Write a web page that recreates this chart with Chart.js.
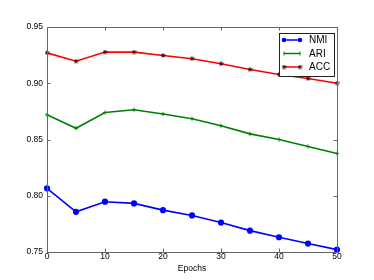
<!DOCTYPE html>
<html>
<head>
<meta charset="utf-8">
<script src="https://cdn.jsdelivr.net/npm/chart.js@4/dist/chart.umd.min.js"></script>
<style>
  html, body { margin: 0; padding: 0; background: #fff; }
  #wrap { width: 374px; height: 280px; position: relative; }
</style>
</head>
<body>
<div id="wrap"><canvas id="chart" width="374" height="280"></canvas></div>
<script>
const epochs = [0, 5, 10, 15, 20, 25, 30, 35, 40, 45, 50];
const nmi = [0.8066, 0.7857, 0.7947, 0.7932, 0.7872, 0.7825, 0.7762, 0.769, 0.7631, 0.7575, 0.7521];
const ari = [0.872, 0.860, 0.874, 0.8765, 0.8727, 0.8685, 0.8622, 0.855, 0.850, 0.8438, 0.8375];
const acc = [0.927, 0.9196, 0.9277, 0.9277, 0.9247, 0.9218, 0.9173, 0.9122, 0.9078, 0.9042, 0.900];
const seriesNames = ["NMI", "ARI", "ACC"];
const yTicks = [0.75, 0.80, 0.85, 0.90, 0.95];
const xTicks = [0, 10, 20, 30, 40, 50];

const FONT = "'Liberation Sans', Arial, sans-serif";
const frameColor = "#666";

// small filled five-point star like matplotlib '*'
function makeStar(size, fill, stroke) {
  const c = document.createElement("canvas");
  c.width = size;
  c.height = size;
  const g = c.getContext("2d");
  const cx = size / 2, cy = size / 2, ro = size / 2 - 0.2, ri = ro * 0.45;
  g.beginPath();
  for (let i = 0; i < 10; i++) {
    const r = i % 2 ? ri : ro;
    const a = -Math.PI / 2 + i * Math.PI / 5;
    g.lineTo(cx + r * Math.cos(a), cy + r * Math.sin(a));
  }
  g.closePath();
  g.fillStyle = fill;
  g.fill();
  g.lineWidth = 0.5;
  g.strokeStyle = stroke;
  g.stroke();
  return c;
}
const starImg = makeStar(5, "#4a0808", "#1a0000");

const toPoints = (vals) => epochs.map((e, i) => ({ x: e, y: vals[i] }));

// frame, inward ticks and matplotlib style legend
const framePlugin = {
  id: "frame",
  afterDraw(chart) {
    const { ctx, chartArea: a, scales } = chart;
    ctx.save();
    ctx.strokeStyle = frameColor;
    ctx.lineWidth = 1;
    ctx.strokeRect(a.left + 0.5, a.top + 0.5, a.right - a.left, a.bottom - a.top);
    ctx.beginPath();
    const tl = 3.5;
    for (const t of xTicks) {
      const px = Math.round(scales.x.getPixelForValue(t)) + 0.5;
      ctx.moveTo(px, a.bottom); ctx.lineTo(px, a.bottom - tl);
      ctx.moveTo(px, a.top); ctx.lineTo(px, a.top + tl);
    }
    for (const t of yTicks) {
      const py = Math.round(scales.y.getPixelForValue(t)) + 0.5;
      ctx.moveTo(a.left, py); ctx.lineTo(a.left + tl, py);
      ctx.moveTo(a.right, py); ctx.lineTo(a.right - tl, py);
    }
    ctx.stroke();

    // legend
    const bx = 279.5, by = 33.5, bw = 55, bh = 43;
    ctx.fillStyle = "#fff";
    ctx.fillRect(bx, by, bw, bh);
    ctx.strokeStyle = "#222";
    ctx.strokeRect(bx, by, bw, bh);
    ctx.font = "10px " + FONT;
    ctx.textBaseline = "middle";
    chart.data.datasets.forEach((ds, i) => {
      const y = 40 + i * 13.5;
      const x0 = 284, x1 = 300;
      ctx.strokeStyle = ds.borderColor;
      ctx.lineWidth = 1.5;
      ctx.beginPath();
      ctx.moveTo(x0, y); ctx.lineTo(x1, y);
      ctx.stroke();
      for (const x of [x0, x1]) {
        if (ds.pointStyle === "circle") {
          ctx.fillStyle = ds.pointBackgroundColor;
          ctx.beginPath(); ctx.arc(x, y, 2.3, 0, Math.PI * 2); ctx.fill();
        } else if (ds.pointStyle === "cross") {
          ctx.lineWidth = 1;
          ctx.beginPath();
          ctx.moveTo(x, y - 2); ctx.lineTo(x, y + 2);
          ctx.stroke();
        } else {
          ctx.drawImage(starImg, x - 2.5, y - 2.5);
        }
      }
      ctx.fillStyle = "#000";
      ctx.fillText(ds.label, 309, y + 0.5);
    });
    ctx.restore();
  }
};

new Chart(document.getElementById("chart"), {
  type: "line",
  data: {
    datasets: [
      {
        label: seriesNames[0],
        data: toPoints(nmi),
        borderColor: "#0000ff",
        borderWidth: 1.6,
        pointStyle: "circle",
        pointRadius: 2.3,
        pointBackgroundColor: "#0000ff",
        pointBorderColor: "#0000ff",
        tension: 0
      },
      {
        label: seriesNames[1],
        data: toPoints(ari),
        borderColor: "#008000",
        borderWidth: 1.6,
        pointStyle: "cross",
        pointRadius: 2,
        pointBorderWidth: 1,
        pointBorderColor: "#008000",
        tension: 0
      },
      {
        label: seriesNames[2],
        data: toPoints(acc),
        borderColor: "#ff0000",
        borderWidth: 1.6,
        pointStyle: starImg,
        tension: 0
      }
    ]
  },
  options: {
    responsive: false,
    animation: false,
    clip: false,
    layout: { padding: { left: 0, right: 37, top: 27, bottom: 0 } },
    plugins: { legend: { display: false }, tooltip: { enabled: false } },
    scales: {
      x: {
        type: "linear",
        min: 0,
        max: 50,
        afterBuildTicks: (s) => { s.ticks = xTicks.map((v) => ({ value: v })); },
        afterFit: (s) => { s.height = 28; },
        grid: { display: false, drawTicks: false },
        border: { display: false },
        ticks: { color: "#000", font: { size: 8.5, family: FONT }, padding: 0, maxRotation: 0 },
        title: { display: true, text: "Epochs", color: "#000", font: { size: 8.5, family: FONT }, padding: { top: 1, bottom: 6 } }
      },
      y: {
        min: 0.75,
        max: 0.95,
        afterBuildTicks: (s) => { s.ticks = yTicks.map((v) => ({ value: v })); },
        afterFit: (s) => { s.width = 47; },
        grid: { display: false, drawTicks: false },
        border: { display: false },
        ticks: { color: "#000", font: { size: 8.5, family: FONT }, padding: 4, callback: (v) => v.toFixed(2) }
      }
    }
  },
  plugins: [framePlugin]
});
</script>
</body>
</html>
